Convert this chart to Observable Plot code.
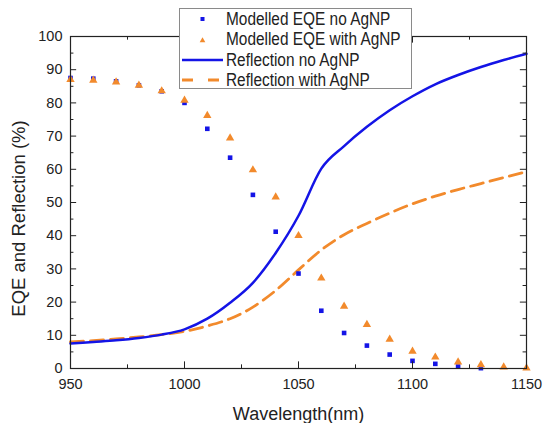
<!DOCTYPE html>
<html>
<head>
<meta charset="utf-8">
<script src="https://cdn.jsdelivr.net/npm/d3@7"></script>
<script src="https://cdn.jsdelivr.net/npm/@observablehq/plot@0.6"></script>
<style>
  html, body { margin: 0; padding: 0; background: #fff; }
  #wrap { position: relative; width: 543px; height: 423px; font-family: "Liberation Sans", Arial, sans-serif; }
  #legend { position: absolute; left: 179px; top: 8px; width: 233px; height: 81px; background: #fff; border: 1px solid #8a8a8a; box-sizing: border-box; }
  .row { position: absolute; left: 0; height: 20px; display: flex; align-items: center; font-size: 17.5px; color: #222; white-space: nowrap; }
  .row svg { width: 44px; height: 20px; margin-right: 2px; flex: none; }
  .row span { display: inline-block; transform: scaleX(0.88); transform-origin: left center; }
</style>
</head>
<body>
<div id="wrap"></div>
<script>
// ---- data ----
const eqeWavelength = [950, 960, 970, 980, 990, 1000, 1010, 1020, 1030, 1040, 1050, 1060, 1070, 1080, 1090, 1100, 1110, 1120, 1130, 1140, 1150];
const eqeNoAgNP   = [87.5, 87.3, 86.5, 85.3, 83.5, 80.0, 72.2, 63.5, 52.3, 41.2, 28.6, 17.4, 10.7, 6.9, 4.2, 2.3, 1.4, 0.6, 0.1, null, null];
const eqeWithAgNP = [87.0, 86.8, 86.3, 85.3, 83.6, 80.8, 76.2, 69.4, 59.8, 51.6, 40.0, 27.2, 18.7, 13.2, 8.8, 5.2, 3.4, 1.9, 1.1, 0.4, 0.1];

const reflWavelength = [950, 960, 970, 980, 990, 1000, 1010, 1020, 1030, 1040, 1050, 1060, 1070, 1080, 1090, 1100, 1110, 1120, 1130, 1140, 1150];
const reflNoAgNP   = [7.5, 8.0, 8.5, 9.2, 10.2, 11.8, 15.0, 19.8, 25.8, 34.8, 46.0, 60.2, 67.0, 72.8, 77.8, 82.0, 85.6, 88.4, 90.8, 92.9, 94.8];
const reflWithAgNP = [8.0, 8.4, 8.9, 9.5, 10.2, 11.2, 12.8, 15.0, 18.5, 23.5, 29.7, 35.7, 40.3, 43.7, 46.8, 49.6, 51.9, 53.9, 55.7, 57.5, 59.3];

const xMajorTicks = [950, 1000, 1050, 1100, 1150];
const xMinorTicks = [975, 1025, 1075, 1125];
const yMajorTicks = [0, 10, 20, 30, 40, 50, 60, 70, 80, 90, 100];
const yMinorTicks = [5, 15, 25, 35, 45, 55, 65, 75, 85, 95];

const seriesNames = ["Modelled EQE no AgNP", "Modelled EQE with AgNP", "Reflection no AgNP", "Reflection with AgNP"];
const xTitle = "Wavelength(nm)";
const yTitle = "EQE and Reflection (%)";

// ---- build tables ----
const blue = "#1414e6";
const orange = "#f28a2c";
const eqeNo = eqeWavelength.map((x, i) => ({x, y: eqeNoAgNP[i]})).filter(d => d.y != null);
const eqeWith = eqeWavelength.map((x, i) => ({x, y: eqeWithAgNP[i]})).filter(d => d.y != null);
const reflNo = reflWavelength.map((x, i) => ({x, y: reflNoAgNP[i]}));
const reflWith = reflWavelength.map((x, i) => ({x, y: reflWithAgNP[i]}));

const plot = Plot.plot({
  width: 543,
  height: 423,
  marginLeft: 70,
  marginRight: 17,
  marginTop: 36,
  marginBottom: 55,
  style: {fontFamily: '"Liberation Sans", Arial, sans-serif', fontSize: "14.5px", color: "#222", background: "transparent"},
  x: {domain: [950, 1150]},
  y: {domain: [0, 100]},
  marks: [
    Plot.line(reflWith, {x: "x", y: "y", stroke: orange, strokeWidth: 2.8, strokeDasharray: "13,7", curve: "monotone-x"}),
    Plot.line(reflNo, {x: "x", y: "y", stroke: blue, strokeWidth: 2.5, curve: "monotone-x"}),
    Plot.dot(eqeNo, {x: "x", y: "y", symbol: "square", r: 2.6, fill: blue}),
    Plot.dot(eqeWith, {x: "x", y: "y", symbol: "triangle", r: 3.1, fill: orange}),
    // inward ticks on all four sides
    Plot.ruleX(xMajorTicks, {x: d => d, y1: 0, y2: 2, stroke: "#222"}),
    Plot.ruleX(xMinorTicks, {x: d => d, y1: 0, y2: 1.1, stroke: "#222"}),
    Plot.ruleX(xMajorTicks, {x: d => d, y1: 100, y2: 98, stroke: "#222"}),
    Plot.ruleX(xMinorTicks, {x: d => d, y1: 100, y2: 98.9, stroke: "#222"}),
    Plot.ruleY(yMajorTicks, {y: d => d, x1: 950, x2: 952.7, stroke: "#222"}),
    Plot.ruleY(yMinorTicks, {y: d => d, x1: 950, x2: 951.5, stroke: "#222"}),
    Plot.ruleY(yMajorTicks, {y: d => d, x1: 1150, x2: 1147.3, stroke: "#222"}),
    Plot.ruleY(yMinorTicks, {y: d => d, x1: 1150, x2: 1148.5, stroke: "#222"}),
    Plot.frame({stroke: "#222", strokeWidth: 1.2}),
    Plot.axisX({ticks: xMajorTicks, tickSize: 0, tickPadding: 10, label: null, tickFormat: d => String(d)}),
    Plot.axisY({ticks: yMajorTicks, tickSize: 0, tickPadding: 8, label: null, tickFormat: d => String(d)}),
    Plot.text([xTitle], {frameAnchor: "bottom", textAnchor: "middle", lineAnchor: "middle", dx: 0, dy: 46, fontSize: 18, fill: "#222"}),
    Plot.text([yTitle], {frameAnchor: "left", textAnchor: "middle", lineAnchor: "middle", dx: -51, dy: 16, rotate: -90, fontSize: 18.5, fill: "#222"})
  ]
});

const wrap = document.getElementById("wrap");
wrap.appendChild(plot);

// ---- legend ----
const legend = document.createElement("div");
legend.id = "legend";
const symbols = [
  `<svg viewBox="0 0 44 20"><rect x="20.5" y="8" width="4" height="4" fill="${blue}"/></svg>`,
  `<svg viewBox="0 0 44 20"><path d="M22.5,7.3 L25.3,12.3 L19.7,12.3 Z" fill="${orange}"/></svg>`,
  `<svg viewBox="0 0 44 20"><line x1="2" y1="10" x2="43" y2="10" stroke="${blue}" stroke-width="2.5"/></svg>`,
  `<svg viewBox="0 0 44 20"><line x1="2" y1="10" x2="43" y2="10" stroke="${orange}" stroke-width="2.8" stroke-dasharray="11,15"/></svg>`
];
const rowTops = [0, 20.5, 41, 61];
seriesNames.forEach((name, i) => {
  const row = document.createElement("div");
  row.className = "row";
  row.style.top = rowTops[i] + "px";
  row.innerHTML = symbols[i] + `<span>${name}</span>`;
  legend.appendChild(row);
});
wrap.appendChild(legend);
</script>
</body>
</html>
